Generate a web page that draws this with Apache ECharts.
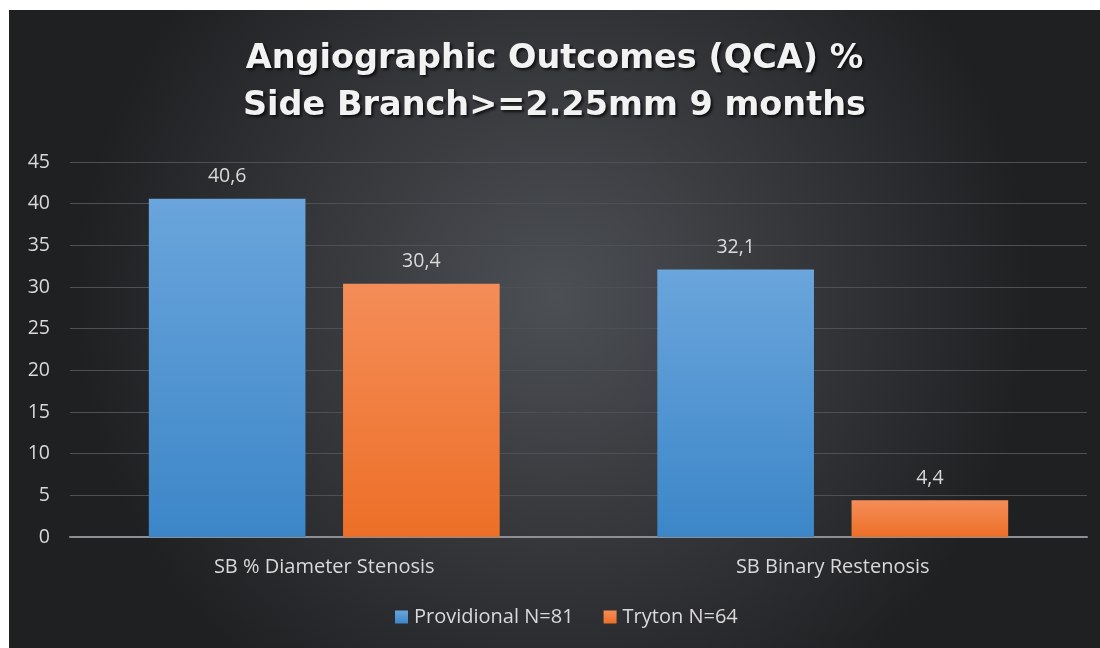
<!DOCTYPE html>
<html><head><meta charset="utf-8">
<script src="https://cdn.jsdelivr.net/npm/echarts@6/dist/echarts.min.js"></script>
<style>html,body{margin:0;padding:0;background:#fff;}#c{position:absolute;left:9px;top:10px;width:1091px;height:638px;}</style>
</head><body><div id="c"></div>
<script>
const categories = ['SB % Diameter Stenosis', 'SB Binary Restenosis'];
const seriesNames = ['Providional N=81', 'Tryton N=64'];
const providional = [40.6, 32.1];
const tryton = [30.4, 4.4];
const yTicks = [0, 5, 10, 15, 20, 25, 30, 35, 40, 45];
const titleLines = ['Angiographic Outcomes (QCA) %', 'Side Branch>=2.25mm 9 months'];

const chart = echarts.init(document.getElementById('c'));
const grad = (a, b) => new echarts.graphic.LinearGradient(0, 0, 0, 1, [{offset: 0, color: a}, {offset: 1, color: b}]);
const fmt = p => String(p.value).replace('.', ',');
const txt = '#d9d9d9';
const F = 'Open Sans';
chart.setOption({
  backgroundColor: new echarts.graphic.RadialGradient(0.5, 0.45, 0.75, [
    {offset: 0, color: '#4c4f54'}, {offset: 1, color: '#1f2022'}]),
  title: {
    text: titleLines.join('\n'), left: 'center', top: 21,
    textStyle: {color: '#f2f2f2', fontFamily: 'DejaVu Sans', fontWeight: 'bold', fontSize: 33.5, lineHeight: 47,
      textShadowColor: 'rgba(0,0,0,0.75)', textShadowBlur: 3, textShadowOffsetX: 2, textShadowOffsetY: 2}
  },
  legend: {
    data: seriesNames, bottom: 16, left: 381, itemWidth: 13, itemHeight: 13, itemGap: 30,
    icon: 'rect', textStyle: {color: txt, fontFamily: F, fontSize: 20, padding: [0, 0, 0, 1]}
  },
  grid: {left: 61, right: 13, top: 152, bottom: 111},
  xAxis: {
    type: 'category', data: categories,
    axisLine: {lineStyle: {color: '#8c8f93', width: 2}}, axisTick: {show: false},
    axisLabel: {color: txt, fontFamily: F, fontSize: 20, margin: 20}
  },
  yAxis: {
    type: 'value', min: yTicks[0], max: yTicks[yTicks.length - 1], interval: 5,
    axisLabel: {color: txt, fontFamily: F, fontSize: 19.5, margin: 20},
    splitLine: {lineStyle: {color: '#4d5054', width: 1}},
    axisLine: {show: false}, axisTick: {show: false}
  },
  series: [
    {name: seriesNames[0], type: 'bar', data: providional, barCategoryGap: '31%', barGap: '24%',
      itemStyle: {color: grad('#6aa5dc', '#3c86c8')},
      label: {show: true, position: 'top', distance: 12, color: txt, fontFamily: F, fontSize: 19.5, formatter: fmt}},
    {name: seriesNames[1], type: 'bar', data: tryton, barCategoryGap: '31%', barGap: '24%',
      itemStyle: {color: grad('#f48d58', '#ed6f27')},
      label: {show: true, position: 'top', distance: 12, color: txt, fontFamily: F, fontSize: 19.5, formatter: fmt}}
  ]
});
</script></body></html>
